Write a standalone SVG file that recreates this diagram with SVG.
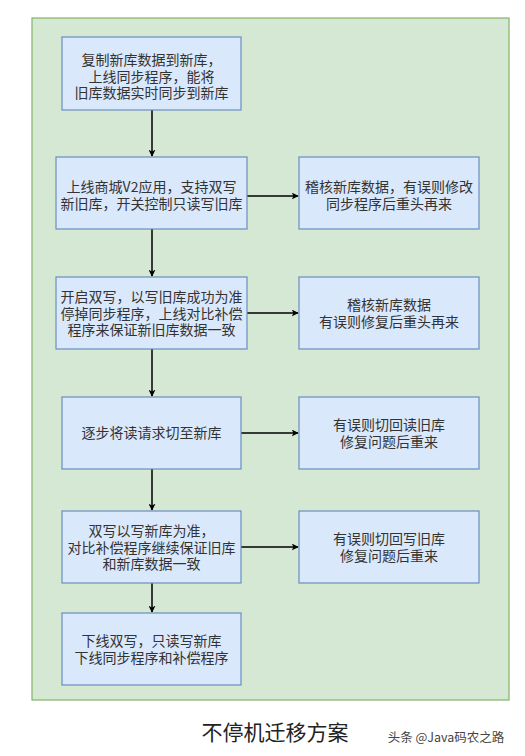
<svg xmlns="http://www.w3.org/2000/svg" width="525" height="756" viewBox="0 0 525 756">
<style>
.bg{fill:#d5e8d4;stroke:#82b366;stroke-width:1.2}
.box{fill:#dae8fc;stroke:#6c8ebf;stroke-width:1.2}
.t{font-family:"Noto Sans CJK SC","Liberation Sans",sans-serif;font-size:14px;fill:#333;text-anchor:middle}
.c{stroke:#000;stroke-width:1.5;fill:none;marker-end:url(#ah)}
</style>
<defs>
<marker id="ah" viewBox="0 0 10 10" refX="9" refY="5" markerWidth="7" markerHeight="7" markerUnits="userSpaceOnUse" orient="auto">
<path d="M0,0 L10,5 L0,10 L2.5,5 Z" fill="#000"/>
</marker>
</defs>
<rect width="525" height="756" fill="#fff"/>
<rect id="container" class="bg" x="32" y="18" width="477" height="682"/>
<g id="connectors">
<path class="c" d="M152,110 V156"/>
<path class="c" d="M152,229 V276"/>
<path class="c" d="M152,349 V396"/>
<path class="c" d="M152,469 V510"/>
<path class="c" d="M152,583 V612"/>
<path class="c" d="M247,196 H298"/>
<path class="c" d="M247,313 H298"/>
<path class="c" d="M241,433 H298"/>
<path class="c" d="M241,547 H298"/>
</g>
<g id="n1"><rect class="box" x="62" y="37" width="179" height="73"/>
<text class="t" x="151.5" y="65">复制新库数据到新库，</text>
<text class="t" x="151.5" y="81.5">上线同步程序，能将</text>
<text class="t" x="151.5" y="98">旧库数据实时同步到新库</text></g>
<g id="n2"><rect class="box" x="56" y="157" width="191" height="72"/>
<text class="t" x="151.5" y="192">上线商城V2应用，支持双写</text>
<text class="t" x="151.5" y="208.5">新旧库，开关控制只读写旧库</text></g>
<g id="r2"><rect class="box" x="299" y="157" width="180" height="72"/>
<text class="t" x="389" y="192">稽核新库数据，有误则修改</text>
<text class="t" x="389" y="208.5">同步程序后重头再来</text></g>
<g id="n3"><rect class="box" x="56" y="277" width="191" height="72"/>
<text class="t" x="151.5" y="302">开启双写，以写旧库成功为准</text>
<text class="t" x="151.5" y="318.5">停掉同步程序，上线对比补偿</text>
<text class="t" x="151.5" y="335">程序来保证新旧库数据一致</text></g>
<g id="r3"><rect class="box" x="299" y="277" width="180" height="72"/>
<text class="t" x="389" y="310">稽核新库数据</text>
<text class="t" x="389" y="326.5">有误则修复后重头再来</text></g>
<g id="n4"><rect class="box" x="62" y="397" width="179" height="72"/>
<text class="t" x="151.5" y="438">逐步将读请求切至新库</text></g>
<g id="r4"><rect class="box" x="299" y="397" width="180" height="72"/>
<text class="t" x="389" y="430">有误则切回读旧库</text>
<text class="t" x="389" y="446.5">修复问题后重来</text></g>
<g id="n5"><rect class="box" x="62" y="511" width="179" height="72"/>
<text class="t" x="151.5" y="536">双写以写新库为准，</text>
<text class="t" x="151.5" y="552.5">对比补偿程序继续保证旧库</text>
<text class="t" x="151.5" y="569">和新库数据一致</text></g>
<g id="r5"><rect class="box" x="299" y="511" width="180" height="72"/>
<text class="t" x="389" y="544">有误则切回写旧库</text>
<text class="t" x="389" y="560.5">修复问题后重来</text></g>
<g id="n6"><rect class="box" x="62" y="613" width="179" height="72"/>
<text class="t" x="151.5" y="646">下线双写，只读写新库</text>
<text class="t" x="151.5" y="662.5">下线同步程序和补偿程序</text></g>
<text x="275" y="740" style="font-family:'Noto Sans CJK SC',sans-serif;font-size:21px;fill:#222;text-anchor:middle">不停机迁移方案</text>
<text x="446" y="742" style="font-family:'Noto Sans CJK SC',sans-serif;font-size:12.5px;fill:#444;text-anchor:middle">头条 @Java码农之路</text>
</svg>
